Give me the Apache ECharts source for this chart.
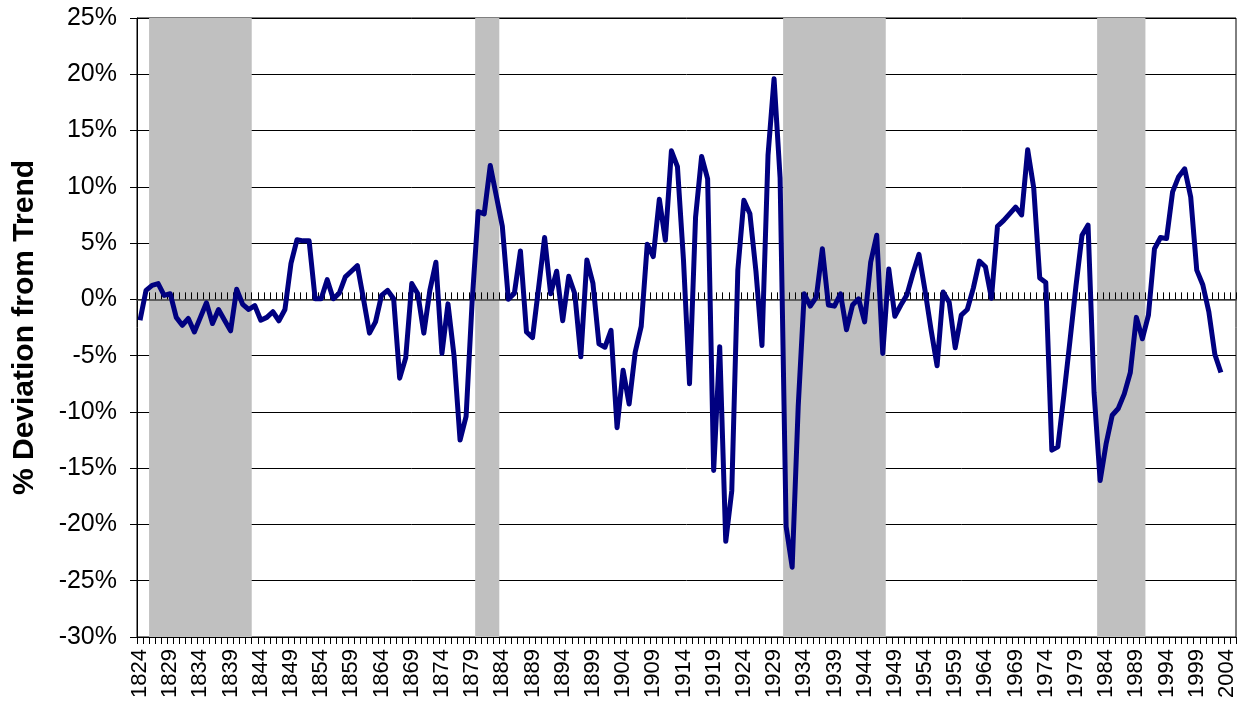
<!DOCTYPE html>
<html>
<head>
<meta charset="utf-8">
<script src="https://cdn.jsdelivr.net/npm/echarts@6/dist/echarts.min.js"></script>
<style>
html,body{margin:0;padding:0;background:#fff;}
#chart{width:1246px;height:721px;}
</style>
</head>
<body>
<div id="chart"></div>
<script>
// Categories: years 1824..2005 (data runs through 2003)
var firstYear = 1824;
var lastCategoryYear = 2005;
var years = [];
for (var y = firstYear; y <= lastCategoryYear; y++) years.push(String(y));

// % deviation from trend, 1824..2003
var deviation = [
  -1.85, 0.8, 1.25, 1.4, 0.35, 0.5, -1.6, -2.3, -1.7, -2.9,
  -1.6, -0.3, -2.15, -0.9, -1.85, -2.8, 0.9, -0.45, -0.9, -0.55,
  -1.85, -1.6, -1.1, -1.9, -0.9, 3.2, 5.3, 5.2, 5.2, 0.05,
  0.05, 1.75, 0.05, 0.55, 2.0, 2.5, 3.0, 0.05, -3.0, -2.0,
  0.35, 0.8, 0.05, -7.0, -5.2, 1.4, 0.5, -3.0, 0.8, 3.3,
  -4.8, -0.4, -5.0, -12.5, -10.4, -0.2, 7.8, 7.6, 11.9, 9.2,
  6.5, 0.0, 0.55, 4.3, -2.9, -3.4, 1.0, 5.5, 0.5, 2.5,
  -1.9, 2.05, 0.5, -5.1, 3.5, 1.45, -3.95, -4.25, -2.75, -11.4,
  -6.3, -9.3, -4.7, -2.4, 4.9, 3.8, 8.9, 5.25, 13.2, 11.8,
  3.5, -7.5, 7.3, 12.7, 10.7, -15.2, -4.2, -21.5, -17.0, 2.6,
  8.8, 7.6, 2.5, -4.1, 12.8, 19.6, 10.8, -20.2, -23.8, -9.5,
  0.5, -0.6, 0.2, 4.5, -0.5, -0.6, 0.5, -2.7, -0.5, 0.05,
  -2.0, 3.3, 5.7, -4.8, 2.7, -1.5, -0.5, 0.4, 2.3, 4.0,
  0.8, -2.7, -5.9, 0.65, -0.25, -4.3, -1.4, -0.9, 1.0, 3.4,
  2.9, 0.1, 6.5, 7.0, 7.6, 8.2, 7.5, 13.3, 9.9, 1.9,
  1.5, -13.4, -13.1, -8.5, -3.7, 1.2, 5.7, 6.6, -8.3, -16.1,
  -12.8, -10.3, -9.7, -8.4, -6.5, -1.6, -3.5, -1.4, 4.5, 5.5,
  5.4, 9.55, 10.9, 11.6, 9.1, 2.6, 1.3, -1.1, -4.9, -6.5
];

// Shaded periods (inclusive year ranges)
var shadedPeriods = [[1826, 1842], [1880, 1883], [1931, 1947], [1983, 1990]];

// Y axis range and step (percent)
var yMin = -30, yMax = 25, yStep = 5;

// Shaded periods as category index pairs
var shadeData = shadedPeriods.map(function (p) {
  return [years.indexOf(String(p[0])), years.indexOf(String(p[1]))];
});

var FONT = '"Liberation Sans", Arial, sans-serif';
var chart = echarts.init(document.getElementById('chart'), null, {renderer: 'canvas'});

function renderShade(params, api) {
  var cs = params.coordSys;
  var band = api.size([1, 0])[0];
  var x0 = api.coord([api.value(0), 0])[0] - band / 2;
  var x1 = api.coord([api.value(1), 0])[0] + band / 2;
  return {
    type: 'rect',
    shape: {x: x0, y: cs.y, width: x1 - x0, height: cs.height},
    style: {fill: '#C0C0C0'}
  };
}

chart.setOption({
  animation: false,
  backgroundColor: '#ffffff',
  grid: {left: 137, right: 10, top: 18, bottom: 84, show: true, borderColor: '#000', borderWidth: 1, backgroundColor: 'transparent'},
  xAxis: [
    { // bottom axis with labels
      type: 'category', data: years, boundaryGap: true, position: 'bottom',
      axisLine: {onZero: false, show: true, lineStyle: {color: '#000', width: 1}},
      axisTick: {show: false},
      axisLabel: {interval: 4, rotate: 90, fontFamily: FONT, fontSize: 22, color: '#000', margin: 12},
      splitLine: {show: false}
    },
    { // zero line with ticks inside (upwards)
      type: 'category', data: years, boundaryGap: true, position: 'bottom', z: 5,
      axisLine: {onZero: true, show: true, lineStyle: {color: '#404040', width: 1.5}},
      axisTick: {show: true, interval: 0, inside: true, length: 7, lineStyle: {color: '#000', width: 1}},
      axisLabel: {show: false}, splitLine: {show: false}
    },
    { // zero line ticks outside (downwards)
      type: 'category', data: years, boundaryGap: true, position: 'bottom', z: 5,
      axisLine: {onZero: true, show: false},
      axisTick: {show: true, interval: 0, inside: false, length: 7, lineStyle: {color: '#000', width: 1}},
      axisLabel: {show: false}, splitLine: {show: false}
    }
  ],
  yAxis: [
    {
      type: 'value', min: yMin, max: yMax, interval: yStep, position: 'left',
      axisLine: {show: true, lineStyle: {color: '#000', width: 1}},
      axisTick: {show: true, length: 7, lineStyle: {color: '#000'}},
      axisLabel: {formatter: '{value}%', fontFamily: FONT, fontSize: 25, color: '#000', margin: 20},
      splitLine: {show: true, lineStyle: {color: '#000', width: 1}},
      name: '% Deviation from Trend', nameLocation: 'middle', nameRotate: 90, nameGap: 97,
      nameTextStyle: {fontFamily: FONT, fontSize: 30, fontWeight: 'bold', color: '#000'}
    }
  ],
  series: [
    {
      type: 'custom', name: 'shade', xAxisIndex: 0, yAxisIndex: 0,
      data: shadeData, encode: {x: [0, 1]}, renderItem: renderShade,
      z: 1, silent: true, clip: true
    },
    {
      type: 'line', name: 'deviation', xAxisIndex: 0, yAxisIndex: 0, data: deviation,
      showSymbol: false, symbol: 'none', z: 10,
      lineStyle: {color: '#000080', width: 5, join: 'round'}
    }
  ]
});
</script>
</body>
</html>
